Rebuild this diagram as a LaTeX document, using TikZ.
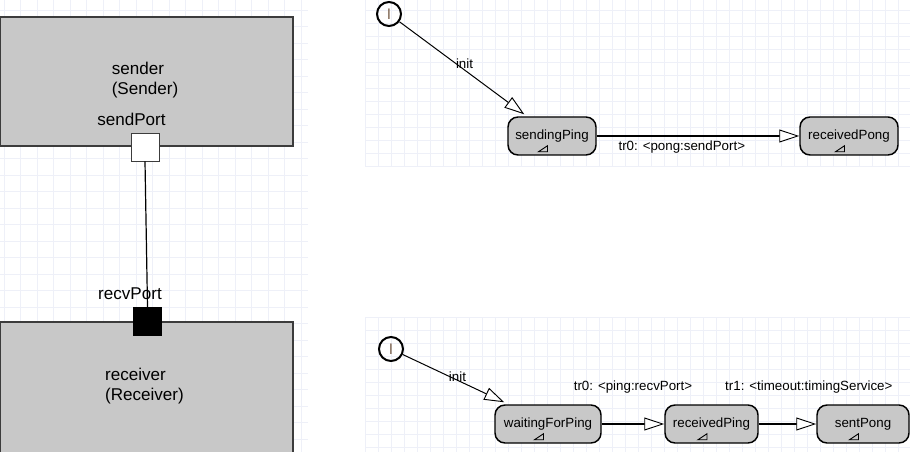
\documentclass[tikz,border=0pt]{standalone}
\usepackage{fontspec}
\setmainfont{Liberation Sans}
\usetikzlibrary{arrows.meta,calc}
\definecolor{boxgray}{RGB}{200,200,200}
\definecolor{partedge}{RGB}{60,60,60}
\definecolor{gridcol}{RGB}{238,240,248}
\definecolor{initcol}{RGB}{125,100,80}

\begin{document}
\begin{tikzpicture}[
  x=0.75pt, y=-0.75pt,
  part/.style={rectangle, draw=partedge, fill=boxgray, line width=0.9pt,
               minimum width=219.75pt, minimum height=96.75pt, inner sep=0pt},
  port/.style={rectangle, draw=partedge, line width=0.6pt, minimum size=21pt, inner sep=0pt},
  partlbl/.style={font=\fontsize{12.8}{15}\selectfont, align=left, inner sep=0pt},
  statebox/.style={rectangle, rounded corners=7.5pt, draw=black, fill=boxgray, line width=1.1pt,
                   minimum height=28.5pt, inner sep=0pt, font=\fontsize{10}{12}\selectfont},
  initstate/.style={circle, draw=black, line width=1.5pt, minimum size=18pt, inner sep=0pt,
                    text=initcol, font=\fontsize{11.5}{12}\selectfont},
  trans/.style={-{Triangle[fill=white, line width=0.7pt, length=15pt, width=9.75pt]}},
  lbl/.style={font=\fontsize{10}{12}\selectfont, inner sep=1pt},
  icon/.style={line width=0.7pt},
  gridline/.style={draw=gridcol, line width=0.5pt}
]
\useasboundingbox (0,0) rectangle (910,452);

% background grids
\foreach \gx in {4,20.5,...,308} \draw[gridline] (\gx,0) -- (\gx,452);
\foreach \gy in {10,26.5,...,452} \draw[gridline] (0,\gy) -- (308,\gy);
\foreach \gx in {365,378,...,910} {
  \draw[gridline] (\gx,0) -- (\gx,166);
  \draw[gridline] (\gx,317) -- (\gx,452);
}
\foreach \gy in {10,23,...,166} \draw[gridline] (365,\gy) -- (910,\gy);
\foreach \gy in {317,330,...,452} \draw[gridline] (365,\gy) -- (910,\gy);

% structure
\node[part] (sender) at (146.5,81.5) {};
\node[partlbl] (senderName) at (145,80) {sender\\(Sender)};
\node[part, minimum height=102pt] (receiver) at (146.5,390) {};
\node[partlbl] (receiverName) at (144.5,386) {receiver\\(Receiver)};

\node[port, fill=white] (sendPort) at (145,147) {};
\node[port, fill=black, draw=black] (recvPort) at (147.5,321.5) {};
\node[partlbl] (sendPortLbl) at (131.5,119) {sendPort};
\node[partlbl] (recvPortLbl) at (130,294) {recvPort};
\draw[line width=0.9pt] (sendPort.south) -- (recvPort.north);

% sender behaviour
\node[initstate] (init1) at (389,14) {I};
\node[statebox, minimum width=66pt] (sendingPing) at (552,136) {sendingPing};
\node[statebox, minimum width=73.5pt] (receivedPong) at (849,136) {receivedPong};
\draw[trans, line width=0.75pt] (init1) -- ($(sendingPing.north west)+(17,-2)$)
  node[lbl, midway, xshift=2pt, yshift=3pt] {init};
\draw[trans, line width=1pt] (sendingPing) -- (receivedPong)
  node[lbl, pos=0.42, below=2pt] {tr0: <pong:sendPort>};

% receiver behaviour
\node[initstate] (init2) at (391,349) {I};
\node[statebox, minimum width=79.5pt] (waitingForPing) at (548,424) {waitingForPing};
\node[statebox, minimum width=69.75pt] (receivedPing) at (711.5,424) {receivedPing};
\node[statebox, minimum width=69pt] (sentPong) at (863,424) {sentPong};
\draw[trans, line width=0.75pt] (init2) -- ($(waitingForPing.north west)+(10,-2)$)
  node[lbl, midway, xshift=3pt, yshift=1pt] {init};
\draw[trans, line width=1.4pt] (waitingForPing) -- (receivedPing)
  node[lbl, midway, above=21pt] {tr0: <ping:recvPort>};
\draw[trans, line width=1.4pt] (receivedPing) -- (sentPong)
  node[lbl, midway, above=21pt, xshift=16pt] {tr1: <timeout:timingService>};

\foreach \s in {sendingPing, receivedPong, waitingForPing, receivedPing, sentPong}
  \draw[icon] ([shift={(-13.5,-4)}]\s.south) -- ++(9,0) -- ++(0,-6) -- cycle;
\end{tikzpicture}
\end{document}
